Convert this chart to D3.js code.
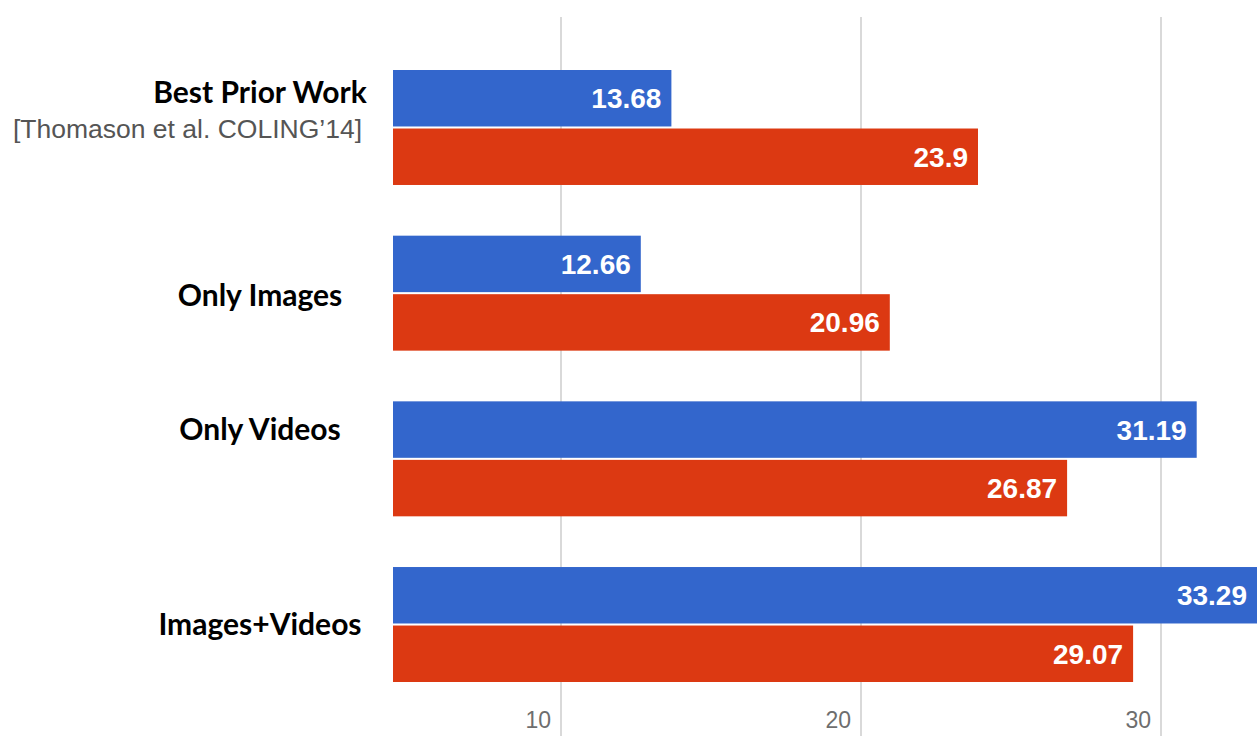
<!DOCTYPE html>
<html lang="en">
<head>
  <meta charset="UTF-8">
  <script src="https://d3js.org/d3.v7.min.js"></script>
  <title>Best prior work vs images / videos</title>
  <style>
    body { margin: 0; background: #fff; }
    .catLabel {
      font-family: 'Lato', 'Open Sans', sans-serif;
      font-weight: 700;
      font-size: 30px;
      fill: #000;
    }
    .cite {
      font-family: 'Liberation Sans', Arial, sans-serif;
      font-size: 26.5px;
      fill: #555;
    }
    .valLabel {
      font-family: 'Liberation Sans', Arial, sans-serif;
      font-weight: 700;
      font-size: 28px;
      fill: #fff;
    }
    .tickLabel {
      font-family: 'Liberation Sans', Arial, sans-serif;
      font-size: 23px;
      fill: #6e6e6e;
    }
  </style>
</head>
<body>
<div id="chart"></div>
<script>

  // data
  let categories = ['Best Prior Work', 'Only Images', 'Only Videos', 'Images+Videos']
  let citation = '[Thomason et al. COLING\u201914]'
  let blueValues = [13.68, 12.66, 31.19, 33.29]
  let redValues = [23.9, 20.96, 26.87, 29.07]
  let tickValues = [10, 20, 30]

  let width = 1257,
      height = 736;

  let svg = d3.select("#chart")
          .append("svg")
          .attr("width", width)
          .attr("height", height)

  // x scale: 30px per unit, bars start at x=393
  let xScale = d3.scaleLinear().domain([4.4, 34]).range([393, 393 + 29.6 * 30]);

  // one band per category, two sub-bands for the series
  let yScale = d3.scaleBand().domain(categories).range([70, 682]).paddingInner(0.306).paddingOuter(0);
  let subScale = d3.scaleBand().domain(['blue', 'red']).range([0, yScale.bandwidth()]).paddingInner(0.035);

  let colors = {blue: '#3366cc', red: '#dc3912'}

  //gridlines
  svg.append("g")
          .selectAll("line")
          .data(tickValues)
          .join("line")
          .attr("x1", d => xScale(d))
          .attr("x2", d => xScale(d))
          .attr("y1", 17)
          .attr("y2", height)
          .style("stroke", "#cccccc")
          .style("stroke-width", 1.5)

  //tick labels
  svg.append("g")
          .selectAll("text")
          .data(tickValues)
          .join("text")
          .attr("class", "tickLabel")
          .attr("x", d => xScale(d) - 10)
          .attr("y", 728)
          .attr("text-anchor", "end")
          .text(d => d)

  //pack both series per category
  let rows = categories.map((c, i) => ({cat: c, values: [
      {key: 'blue', value: blueValues[i]},
      {key: 'red', value: redValues[i]}
    ]}))

  let groups = svg.append("g")
          .selectAll("g")
          .data(rows)
          .join("g")
          .attr("transform", d => "translate(0," + yScale(d.cat) + ")")

  groups.selectAll("rect")
          .data(d => d.values)
          .join("rect")
          .attr("x", xScale(4.4))
          .attr("y", d => subScale(d.key))
          .attr("width", d => xScale(d.value) - xScale(4.4))
          .attr("height", subScale.bandwidth())
          .style("fill", d => colors[d.key])

  // value labels inside the bar end (the last one is cut by the edge)
  groups.selectAll("text")
          .data(d => d.values)
          .join("text")
          .attr("class", "valLabel")
          .attr("x", d => Math.min(xScale(d.value), width) - 10)
          .attr("y", d => subScale(d.key) + subScale.bandwidth() / 2 + 10)
          .attr("text-anchor", "end")
          .text(d => d.value)

  //category names, hand placed a bit differently in the original
  let labelDy = [-24.5, 13, -19, 10.5]
  svg.append("g")
          .selectAll("text")
          .data(categories)
          .join("text")
          .attr("class", "catLabel")
          .attr("x", 260)
          .attr("y", (d, i) => yScale(d) + yScale.bandwidth() / 2 + labelDy[i])
          .attr("text-anchor", "middle")
          .text(d => d)

  svg.append("text")
          .attr("class", "cite")
          .attr("x", 362)
          .attr("y", yScale(categories[0]) + yScale.bandwidth() / 2 + 10.5)
          .attr("text-anchor", "end")
          .text(citation)

</script>
</body>
</html>
